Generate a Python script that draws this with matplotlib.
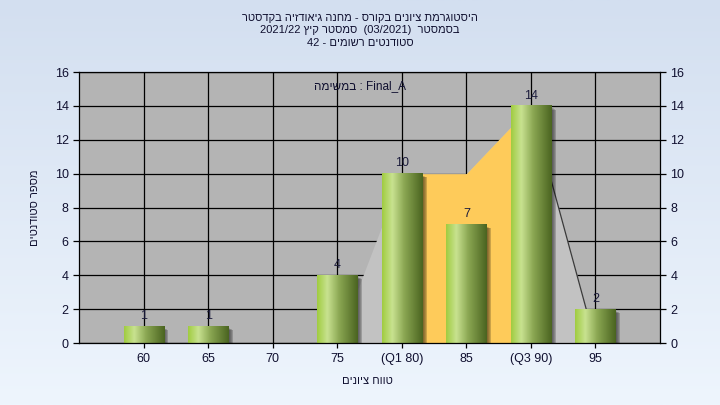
import numpy as np
import matplotlib
matplotlib.use("Agg")
import matplotlib.pyplot as plt
from matplotlib.colors import LinearSegmentedColormap

plt.rcParams['font.family'] = ['Liberation Sans', 'DejaVu Sans']

# ---------------- data ----------------
categories = ["60", "65", "70", "75", "(Q1 80)", "85", "(Q3 90)", "95"]
counts = [1, 1, 0, 4, 10, 7, 14, 2]
# background "box" area (min .. Q1 .. median .. Q3 .. max)
area_idx = [3, 4, 5, 6, 7]
area_vals = [0, 10, 10, 14, 0]
q_idx = [4, 5, 6]
q_vals = [10, 10, 14]
yticks = [0, 2, 4, 6, 8, 10, 12, 14, 16]


def heb(s):
    """visual order for a pure Hebrew run"""
    return s[::-1]


title_lines = [
    heb("היסטוגרמת ציונים בקורס - מחנה גיאודזיה בקדסטר"),
    "2021/22 " + heb("סמסטר קיץ") + "  (03/2021)  " + heb("בסמסטר"),
    "42 - " + heb("סטודנטים רשומים"),
]
task_label = heb("במשימה") + " : Final_A"
xlabel = heb("טווח ציונים")
ylabel = heb("מספר סטודנטים")

# ---------------- figure ----------------
fig = plt.figure(figsize=(7.2, 4.05), dpi=100)
bg = fig.add_axes([0, 0, 1, 1], zorder=-10)
grad = np.linspace(0, 1, 256).reshape(-1, 1)
bg_cmap = LinearSegmentedColormap.from_list("bg", ["#d3dff0", "#eef5fd"])
bg.imshow(grad, aspect='auto', cmap=bg_cmap, extent=[0, 1, 0, 1])
bg.set_axis_off()

ax = fig.add_axes([0.1097, 0.153, 0.807, 0.669])
ax.set_facecolor("#b4b4b4")
x = np.arange(len(categories))

# grid
for yy in yticks:
    ax.axhline(yy, color="black", lw=0.9, zorder=1)
for xx in x:
    ax.axvline(xx, color="black", lw=0.9, zorder=1)

# area
ax.fill_between(area_idx, area_vals, 0, color="#c2c2c2", lw=0, zorder=2)
ax.fill_between(q_idx, q_vals, 0, color="#fecb5a", lw=0, zorder=2)
ax.plot(area_idx[-2:], area_vals[-2:], color="#3a3a3a", lw=0.9, zorder=2.5)

# bars with cylinder gradient + shadow
bw = 0.62
bar_cmap = LinearSegmentedColormap.from_list(
    "bar", [(0, "#a0cc40"), (0.25, "#c8e290"), (0.55, "#8aa652"), (1, "#4a6420")])
hgrad = np.linspace(0, 1, 128).reshape(1, -1)
for xi, v in zip(x, counts):
    if v <= 0:
        continue
    for k, a in enumerate([0.12, 0.12, 0.15, 0.2]):
        dx = 0.02 + 0.015 * k
        ax.add_patch(plt.Rectangle((xi - bw / 2 + dx + 0.03, -0.3), bw - 0.02, v + 0.3 - 0.12 - 0.03 * k,
                                   color="black", alpha=a, lw=0, zorder=2.8))
    ax.imshow(hgrad, aspect='auto', cmap=bar_cmap,
              extent=[xi - bw / 2, xi + bw / 2, 0, v], zorder=3, interpolation='bilinear')
    ax.text(xi, v + 0.25, str(v), ha='center', va='bottom', fontsize=9, color="#1c1c3c", zorder=4)

ax.set_xlim(-1, 8)
ax.set_ylim(0, 16)
ax.set_yticks(yticks)
ax.set_xticks(x)
ax.set_xticklabels(categories)
ax.tick_params(axis='y', which='both', left=True, right=True, labelleft=True, labelright=True,
               direction='out', length=4, width=0.9, labelsize=9, colors="black", labelcolor="#101030")
ax.tick_params(axis='x', direction='out', length=3.5, width=0.9, labelsize=9, labelcolor="#101030")
for s in ax.spines.values():
    s.set_color("black")
    s.set_linewidth(0.9)
    s.set_zorder(5)

ax.text(3.35, 15.2, task_label, ha='center', va='center', fontsize=8.5, color="#101030", zorder=4)

fig.text(0.5, 0.955, title_lines[0], ha='center', va='center', fontsize=8, color="#101030")
fig.text(0.5, 0.925, title_lines[1], ha='center', va='center', fontsize=8, color="#101030")
fig.text(0.5, 0.893, title_lines[2], ha='center', va='center', fontsize=8, color="#101030")
fig.text(0.511, 0.06, xlabel, ha='center', va='center', fontsize=8, color="#101030")
fig.text(0.049, 0.486, ylabel, ha='center', va='center', rotation=90, fontsize=8, color="#101030")

fig.savefig("out.png", dpi=100)
